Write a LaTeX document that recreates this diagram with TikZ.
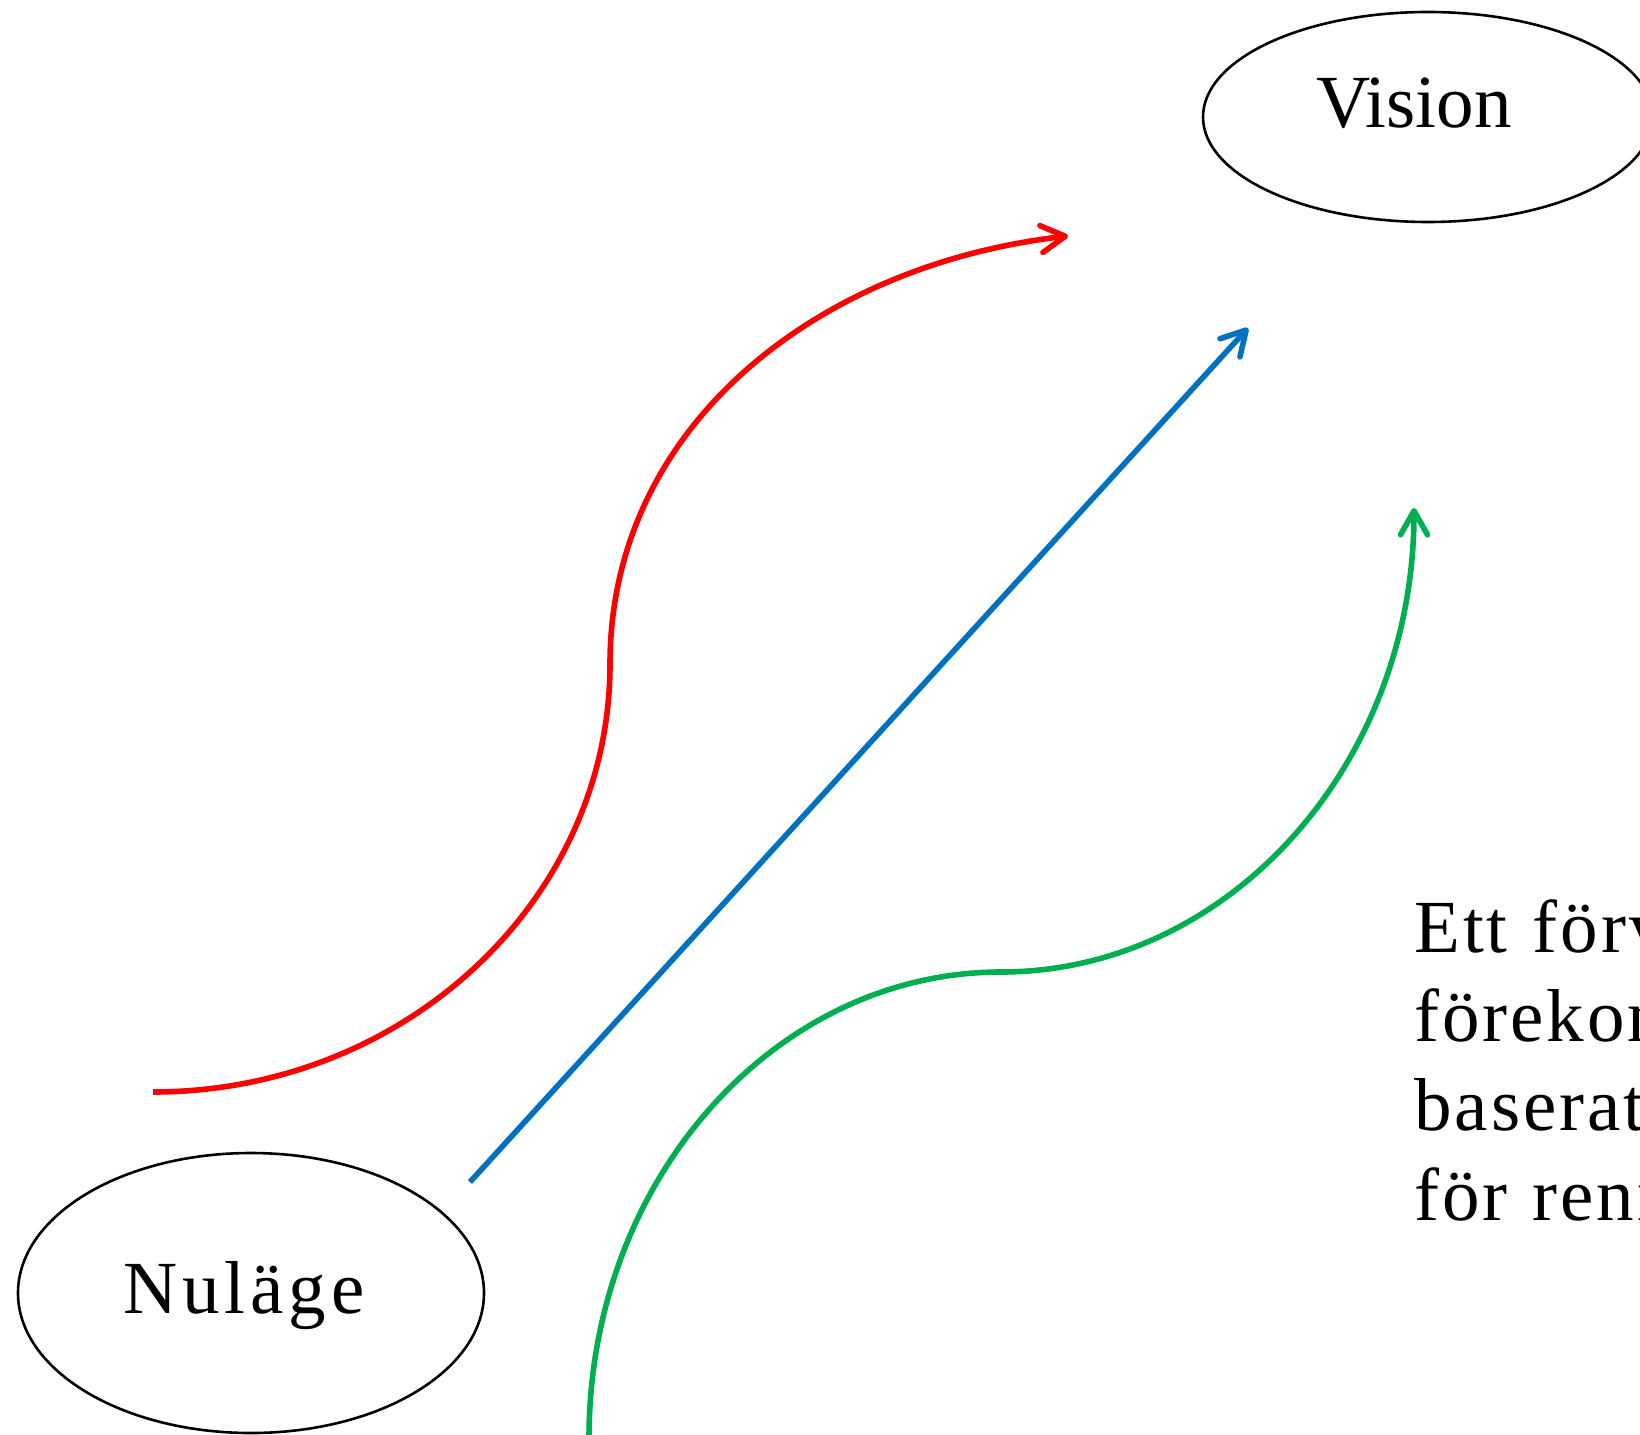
\documentclass[tikz,border=0pt]{standalone}
\usepackage{fontspec}
\setmainfont{Liberation Serif}
\usetikzlibrary{arrows.meta,shapes.geometric}
\definecolor{cred}{RGB}{255,0,0}
\definecolor{cblue}{RGB}{0,112,192}
\definecolor{cgreen}{RGB}{0,176,80}
\begin{document}
\begin{tikzpicture}[x=1pt,y=-1pt,
  ell/.style={draw, line width=2.6pt, ellipse, inner sep=0pt},
  lbl/.style={font=\fontsize{75}{89}\selectfont, inner sep=0pt},
  para/.style={font=\fontsize{75}{89}\selectfont\addfontfeatures{LetterSpace=4}, inner sep=0pt, anchor=base west},
  flow/.style={line width=5.6pt, -{Straight Barb[round,length=24pt,width=27pt]}}]
\clip (0,0) rectangle (1640,1434);
% nodes
\node[ell, minimum width=450pt, minimum height=210pt] (vis) at (1428,117) {};
\node[lbl, anchor=base] (vist) at (1414,128) {Vision};
\node[ell, minimum width=466pt, minimum height=280pt] (nu) at (251,1293) {};
\node[lbl, anchor=base] (nut) at (244,1313) {N\kern5pt{}u\kern5pt{}l\kern5pt{}ä\kern5pt{}g\kern5pt{}e};
\node[para] (p1) at (1414,952) {Ett\hspace{25pt}förv};
\node[para] (p2) at (1414,1041) {förekom};
\node[para] (p3) at (1414,1130) {baserat};
\node[para] (p4) at (1414,1220) {för\hspace{25pt}renn};
% connector ends
\coordinate (r0) at (153,1092);
\coordinate (r1) at (610,664);
\coordinate (r2) at (1068,236);
\coordinate (b0) at (470,1182);
\coordinate (b1) at (1248,328);
\coordinate (g0) at (589,1438);
\coordinate (g1) at (1001,972);
\coordinate (g2) at (1414,508);
% connectors
\draw[flow, cred] (r0) .. controls (405,1092) and (610,900) .. (r1)
                       .. controls (610,428) and (815,265) .. (r2);
\draw[flow, cblue] (b0) -- (b1);
\draw[flow, cgreen] (g0) .. controls (589,1181) and (774,972) .. (g1)
                         .. controls (1229,972) and (1414,764) .. (g2);
\end{tikzpicture}
\end{document}
